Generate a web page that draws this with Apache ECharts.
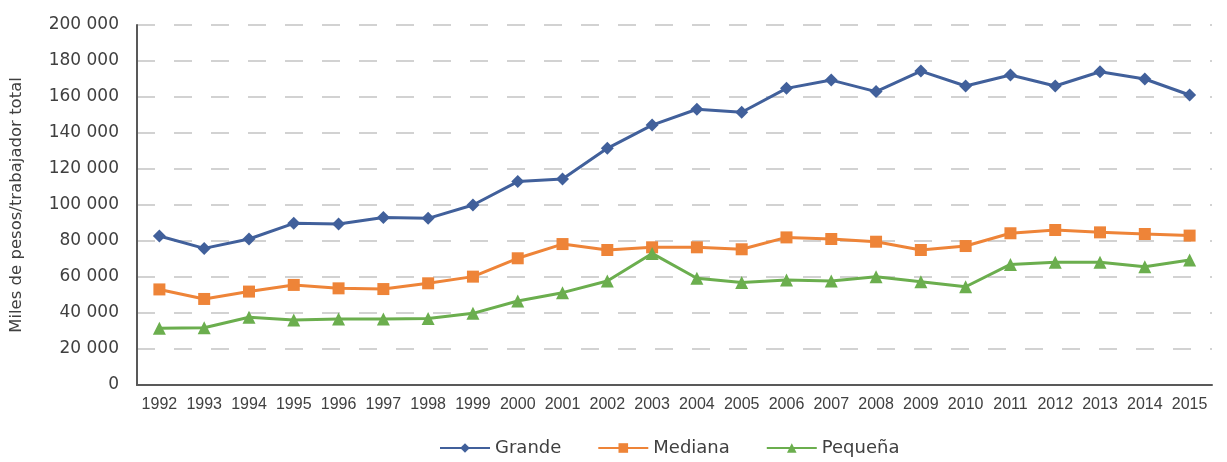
<!DOCTYPE html>
<html>
<head>
<meta charset="utf-8">
<script src="https://cdn.jsdelivr.net/npm/echarts@6/dist/echarts.min.js"></script>
<style>
html,body{margin:0;padding:0;background:#fff;}
#chart{width:1227px;height:462px;}
</style>
</head>
<body>
<div id="chart"></div>
<script>
const years = ['1992','1993','1994','1995','1996','1997','1998','1999','2000','2001','2002','2003','2004','2005','2006','2007','2008','2009','2010','2011','2012','2013','2014','2015'];
const grande = [82800,75900,81100,89800,89400,93000,92600,100000,113000,114400,131500,144400,153200,151500,164800,169400,163000,174400,166100,172200,166100,174000,170000,161100];
const mediana = [53100,47800,51900,55600,53700,53300,56500,60200,70400,78300,75000,76500,76500,75400,82000,81100,79600,75000,77200,84300,86100,84800,83900,83000];
const pequena = [31500,31800,37600,36100,36700,36700,37000,39800,46700,51300,57800,73100,59300,57000,58300,57800,60200,57400,54600,67000,68200,68200,65700,69400];
const seriesNames = ['Grande','Mediana','Pequeña'];

const chart = echarts.init(document.getElementById('chart'));
function fmt(v){ return String(v).replace(/\B(?=(\d{3})+(?!\d))/g,' '); }
function mk(name, data, color, symbol, size){
  return {name:name, type:'line', data:data, symbol:symbol, symbolSize:size,
    lineStyle:{color:color,width:3}, itemStyle:{color:color}, emphasis:{disabled:true}};
}
chart.setOption({
  animation:false,
  textStyle:{fontFamily:'DejaVu Sans'},
  grid:{left:136,right:15,top:25,bottom:77},
  legend:{bottom:0,left:434,itemWidth:50,itemHeight:12,itemGap:36,
    textStyle:{fontFamily:'DejaVu Sans',fontSize:18,color:'#404040'},
    data:seriesNames},
  xAxis:{type:'category',data:years,boundaryGap:true,
    axisLine:{lineStyle:{color:'#595959',width:2}},
    axisTick:{show:false},
    axisLabel:{color:'#404040',fontFamily:'Liberation Sans',fontSize:16,margin:12,interval:0}},
  yAxis:{type:'value',min:0,max:200000,interval:20000,
    name:'Miles de pesos/trabajador total',nameLocation:'middle',nameGap:112,
    nameTextStyle:{fontFamily:'DejaVu Sans',fontSize:16.5,color:'#404040'},
    axisLine:{show:true,lineStyle:{color:'#595959',width:2}},
    axisTick:{show:false},
    axisLabel:{color:'#404040',fontSize:17,margin:18,formatter:fmt},
    splitLine:{lineStyle:{color:'#c4c4c4',width:1.5,type:[18,19]}}},
  series:[
    mk(seriesNames[0],grande,'#41609B','diamond',13),
    mk(seriesNames[1],mediana,'#EE8438','rect',12),
    mk(seriesNames[2],pequena,'#6BAE4E','triangle',13)
  ]
});
</script>
</body>
</html>
